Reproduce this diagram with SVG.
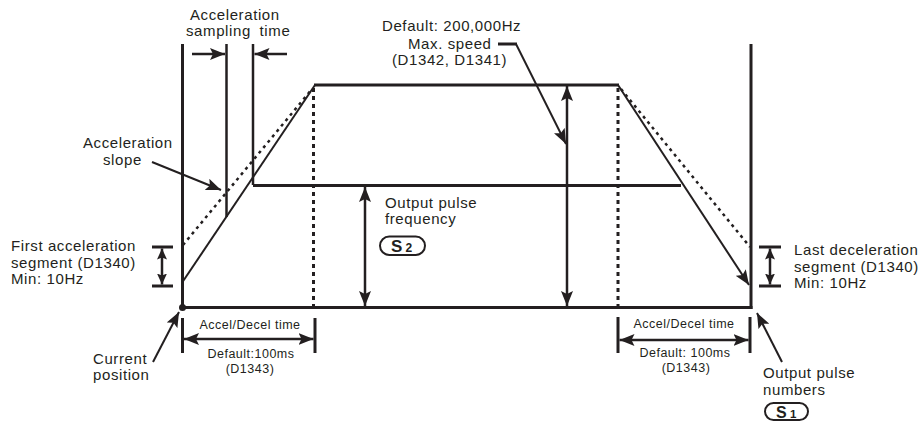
<svg xmlns="http://www.w3.org/2000/svg" width="921" height="421" viewBox="0 0 921 421">
<style>
.t{font-family:"Liberation Sans",Arial,sans-serif;font-size:15px;letter-spacing:0.6px;fill:#231f20}
.s{font-family:"Liberation Sans",Arial,sans-serif;font-size:12.5px;letter-spacing:0.5px;fill:#231f20}
.b{font-family:"Liberation Sans",Arial,sans-serif;font-weight:bold;fill:#231f20}
.k{stroke:#231f20;fill:none;stroke-width:3}
.m{stroke:#231f20;fill:none;stroke-width:2.5}
.n{stroke:#231f20;fill:none;stroke-width:2}
.d{stroke:#231f20;fill:none;stroke-width:3;stroke-dasharray:4 4}
.ds{stroke:#231f20;fill:none;stroke-width:2.5;stroke-dasharray:3 4}
</style>
<defs>
<marker id="ah" markerUnits="userSpaceOnUse" markerWidth="16" markerHeight="12" refX="15" refY="6" orient="auto-start-reverse" viewBox="0 0 16 12">
<path d="M0,0 L15,6 L0,12 L3,6 z" fill="#231f20"/>
</marker>
<marker id="as" markerUnits="userSpaceOnUse" markerWidth="12" markerHeight="10" refX="11" refY="5" orient="auto-start-reverse" viewBox="0 0 12 10">
<path d="M0,0 L11,5 L0,10 L2,5 z" fill="#231f20"/>
</marker>
</defs>

<g id="connectors">
<!-- frame verticals -->
<line class="k" x1="182.5" y1="44" x2="182.5" y2="308"/>
<line class="m" x1="226.5" y1="44" x2="226.5" y2="217"/>
<line class="m" x1="253" y1="44" x2="253" y2="185"/>
<line class="k" x1="751" y1="44" x2="751" y2="309"/>
<!-- baseline, plateau, mid level -->
<line class="k" x1="181" y1="307.5" x2="752.5" y2="307.5"/>
<line class="k" x1="314" y1="85" x2="619" y2="85"/>
<line class="k" x1="253" y1="185.5" x2="681" y2="185.5"/>
<!-- slopes -->
<line class="n" x1="182.5" y1="282" x2="315" y2="85"/>
<line class="ds" x1="183" y1="245" x2="312" y2="89"/>
<line class="n" x1="618" y1="85" x2="749" y2="285" marker-end="url(#ah)"/>
<line class="ds" x1="621" y1="89" x2="750" y2="247"/>
<!-- dotted verticals -->
<line class="d" x1="313.5" y1="88" x2="313.5" y2="306"/>
<line class="d" x1="618" y1="88" x2="618" y2="306"/>
<!-- double arrows -->
<line class="m" x1="567" y1="86" x2="567" y2="306" marker-start="url(#ah)" marker-end="url(#ah)"/>
<line class="m" x1="365" y1="187" x2="365" y2="306" marker-start="url(#ah)" marker-end="url(#ah)"/>
<!-- sampling time arrows -->
<line class="m" x1="192" y1="54" x2="225" y2="54" marker-end="url(#ah)"/>
<line class="m" x1="287" y1="54" x2="254.5" y2="54" marker-end="url(#ah)"/>
<!-- first acceleration bracket -->
<line class="k" x1="152" y1="247" x2="173" y2="247"/>
<line class="k" x1="152" y1="286" x2="173" y2="286"/>
<line class="m" x1="162" y1="248.5" x2="162" y2="284.5" marker-start="url(#as)" marker-end="url(#as)"/>
<!-- last deceleration bracket -->
<line class="k" x1="759" y1="247" x2="781" y2="247"/>
<line class="k" x1="759" y1="286" x2="781" y2="286"/>
<line class="m" x1="770" y1="248.5" x2="770" y2="284.5" marker-start="url(#as)" marker-end="url(#as)"/>
<!-- accel/decel time brackets -->
<line class="k" x1="182.5" y1="318" x2="182.5" y2="353"/>
<line class="k" x1="315" y1="318" x2="315" y2="353"/>
<line class="m" x1="184" y1="339" x2="313.5" y2="339" marker-start="url(#ah)" marker-end="url(#ah)"/>
<line class="k" x1="618" y1="317" x2="618" y2="353"/>
<line class="k" x1="750" y1="317" x2="750" y2="353"/>
<line class="m" x1="619.5" y1="340" x2="748.5" y2="340" marker-start="url(#ah)" marker-end="url(#ah)"/>
<!-- leaders -->
<line class="n" x1="152" y1="162" x2="221" y2="190" marker-end="url(#ah)"/>
<line class="k" x1="498" y1="44" x2="517" y2="44"/>
<line class="n" x1="516" y1="44" x2="566" y2="144" marker-end="url(#ah)"/>
<line class="n" x1="153" y1="362" x2="179" y2="312" marker-end="url(#ah)"/>
<line class="n" x1="782" y1="362" x2="757" y2="313" marker-end="url(#ah)"/>
<circle cx="182.5" cy="307.5" r="3.5" fill="#231f20"/>
</g>

<g id="sampling-label">
<text class="t" x="190" y="19.5" font-size="14.5" letter-spacing="0.9">Acceleration</text>
<text class="t" x="186" y="35.5" font-size="14.5" letter-spacing="0.9" word-spacing="4">sampling time</text>
</g>
<g id="slope-label">
<text class="t" x="83" y="148">Acceleration</text>
<text class="t" x="103" y="165">slope</text>
</g>
<g id="max-speed-label">
<text class="t" x="382" y="31">Default: 200,000Hz</text>
<text class="t" x="408" y="48.5">Max. speed</text>
<text class="t" x="392" y="65">(D1342, D1341)</text>
</g>
<g id="first-segment-label">
<text class="t" x="11" y="251">First acceleration</text>
<text class="t" x="11" y="267.5">segment (D1340)</text>
<text class="t" x="11" y="284">Min: 10Hz</text>
</g>
<g id="last-segment-label">
<text class="t" x="794" y="255">Last deceleration</text>
<text class="t" x="794" y="271.5">segment (D1340)</text>
<text class="t" x="794" y="288">Min: 10Hz</text>
</g>
<g id="frequency-label">
<text class="t" x="385" y="207.5">Output pulse</text>
<text class="t" x="385" y="224">frequency</text>
<rect x="380" y="236.5" width="45" height="18.5" rx="9.25" class="n"/>
<text class="b" x="391" y="251.5" font-size="17">S</text>
<text class="b" x="405.5" y="251.5" font-size="12">2</text>
</g>
<g id="current-position-label">
<text class="t" x="93" y="364">Current</text>
<text class="t" x="93" y="380">position</text>
</g>
<g id="pulse-numbers-label">
<text class="t" x="763" y="378">Output pulse</text>
<text class="t" x="763" y="394.5">numbers</text>
<rect x="765" y="403" width="43" height="17" rx="8.5" class="n"/>
<text class="b" x="776" y="417.5" font-size="16">S</text>
<text class="b" x="790" y="417.5" font-size="11.5">1</text>
</g>
<g id="accel-time-left">
<text class="s" x="250" y="329" text-anchor="middle">Accel/Decel time</text>
<text class="s" x="251" y="358" text-anchor="middle">Default:100ms</text>
<text class="s" x="250" y="373" text-anchor="middle">(D1343)</text>
</g>
<g id="accel-time-right">
<text class="s" x="684" y="328" text-anchor="middle">Accel/Decel time</text>
<text class="s" x="685" y="357" text-anchor="middle">Default: 100ms</text>
<text class="s" x="686" y="372" text-anchor="middle">(D1343)</text>
</g>
</svg>
